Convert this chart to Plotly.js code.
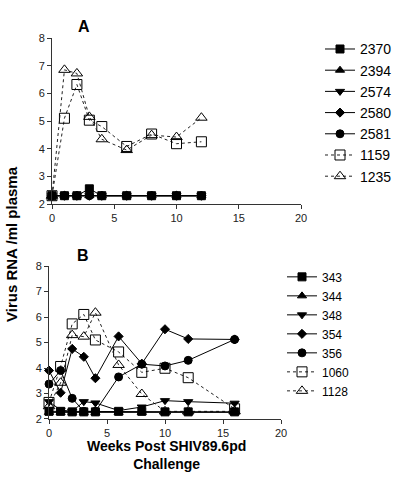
<!DOCTYPE html>
<html>
<head>
<meta charset="utf-8">
<script src="https://cdn.plot.ly/plotly-3.0.1.min.js"></script>
<style>html,body{margin:0;padding:0;background:#fff}#chart{width:400px;height:477px}</style>
</head>
<body>
<div id="chart"></div>
<script>
// Panel A data
const weeksA = [0, 1, 2, 3, 4, 6, 8, 10, 12];
const namesA = ["2370", "2394", "2574", "2580", "2581", "1159", "1235"];
const a2370 = [2.3, 2.3, 2.3, 2.55, 2.3, 2.3, 2.3, 2.3, 2.3];
const a2394 = [2.3, 2.3, 2.3, 2.3, 2.3, 2.3, 2.3, 2.3, 2.3];
const a2574 = [2.3, 2.3, 2.3, 2.3, 2.3, 2.3, 2.3, 2.3, 2.3];
const a2580 = [2.3, 2.3, 2.3, 2.3, 2.3, 2.3, 2.3, 2.3, 2.3];
const a2581 = [2.3, 2.3, 2.3, 2.3, 2.3, 2.3, 2.3, 2.3, 2.3];
const a1159 = [2.3, 5.1, 6.32, 5.03, 4.8, 4.08, 4.53, 4.18, 4.25];
const a1235 = [2.3, 6.85, 6.72, 5.15, 4.34, 3.95, 4.49, 4.42, 5.12];

// Panel B data
const weeksB = [0, 1, 2, 3, 4, 6, 8, 10, 12, 16];
const namesB = ["343", "344", "348", "354", "356", "1060", "1128"];
const b343 = [2.3, 2.3, 2.28, 2.28, 2.28, 2.3, 2.3, 2.28, 2.28, 2.28];
const b344 = [2.26, 2.26, 2.26, 2.26, 2.26, 2.26, 2.26, 2.26, 2.26, 2.26];
const b348 = [2.68, 2.35, 2.3, 2.68, 2.63, 2.33, 2.47, 2.72, 2.68, 2.62];
const b354 = [3.9, 3.03, 4.75, 4.44, 3.6, 5.24, 4.17, 5.52, 5.14, 5.12];
const b356 = [3.37, 3.9, 2.81, 2.3, 2.3, 3.65, 4.15, 4.08, 4.3, 5.12];
const b1060 = [2.65, 4.06, 5.73, 6.1, 5.1, 4.63, 3.83, 3.99, 3.62, 2.4];
const b1128 = [2.5, 3.42, 5.29, 5.23, 6.17, 4.12, 2.98, 2.3, 2.3, 2.3];

const solid = {color: "#000", width: 1};
const dotted = {color: "#222", width: 1, dash: "dot"};
function mk(sym, size) {
  return {symbol: sym, size: size, color: "#000", line: {color: "#000", width: 1}};
}
function tr(name, x, y, sym, size, dashed, xa, ya, leg, rank) {
  return {
    type: "scatter", mode: "lines+markers", name: name, x: x, y: y,
    xaxis: xa, yaxis: ya, legend: leg, legendrank: rank, cliponaxis: false,
    line: dashed ? dotted : solid, marker: mk(sym, size)
  };
}

const symbols = ["square", "triangle-up", "triangle-down", "diamond", "circle", "square-open", "triangle-up-open"];
const sizes = [8, 8, 8, 7, 8, 10, 10];
const seriesA = [a2370, a2394, a2574, a2580, a2581, a1159, a1235];
const seriesB = [b343, b344, b348, b354, b356, b1060, b1128];

const data = [];
// draw order: open series first, then the filled ones, with square on top
const order = [5, 6, 4, 3, 2, 1, 0];
order.forEach(i => {
  data.push(tr(namesA[i], weeksA, seriesA[i], symbols[i], sizes[i], i >= 5, "x", "y", "legend", i + 1));
});
order.forEach(i => {
  data.push(tr(namesB[i], weeksB, seriesB[i], symbols[i], sizes[i], i >= 5, "x2", "y2", "legend2", i + 1));
});

const FAM = "Liberation Sans, Arial, sans-serif";
const tickFont = {family: FAM, size: 11, color: "#222"};
function xax(domain, anchor) {
  return {domain: domain, anchor: anchor, range: [0, 20], tickvals: [0, 5, 10, 15, 20],
    ticks: "outside", ticklen: 4, tickcolor: "#333", showline: true, linecolor: "#333", linewidth: 1,
    showgrid: false, zeroline: false, tickfont: tickFont, fixedrange: true};
}
function yax(domain, anchor) {
  return {domain: domain, anchor: anchor, range: [2, 8], dtick: 1,
    ticks: "outside", ticklen: 4, tickcolor: "#333", showline: true, linecolor: "#333", linewidth: 1,
    showgrid: false, zeroline: false, tickfont: tickFont, fixedrange: true};
}

const layout = {
  width: 400, height: 477,
  margin: {l: 0, r: 0, t: 0, b: 0},
  paper_bgcolor: "#fff", plot_bgcolor: "#fff",
  showlegend: true,
  xaxis: xax([0.13, 0.7525], "y"),
  yaxis: yax([0.5723, 0.9203], "x"),
  xaxis2: xax([0.1225, 0.7025], "y2"),
  yaxis2: yax([0.1216, 0.4423], "x2"),
  legend: {x: 0.80, y: 0.93, xanchor: "left", yanchor: "top", font: {family: FAM, size: 14, color: "#000"},
    itemwidth: 30, tracegroupgap: 0, bgcolor: "rgba(0,0,0,0)", traceorder: "normal"},
  legend2: {x: 0.705, y: 0.45, xanchor: "left", yanchor: "top",
    font: {family: FAM, size: 12, color: "#000"},
    itemwidth: 30, tracegroupgap: 0, bgcolor: "rgba(0,0,0,0)", traceorder: "normal"},
  annotations: [
    {text: "<b>A</b>", xref: "paper", yref: "paper", x: 84 / 400, y: 1 - 27 / 477,
     xanchor: "center", yanchor: "middle",
     showarrow: false, font: {family: FAM, size: 16, color: "#000"}},
    {text: "<b>B</b>", xref: "paper", yref: "paper", x: 83 / 400, y: 1 - 255 / 477,
     xanchor: "center", yanchor: "middle",
     showarrow: false, font: {family: FAM, size: 16, color: "#000"}},
    {text: "<b>Virus RNA /ml plasma</b>", xref: "paper", yref: "paper", x: 11 / 400, y: 1 - 244 / 477,
     xanchor: "center", yanchor: "middle",
     textangle: -90, showarrow: false, font: {family: FAM, size: 15, color: "#000"}},
    {text: "<b>Weeks Post SHIV89.6pd<br>Challenge</b>", xref: "paper", yref: "paper", x: 166 / 400, y: 1 - 455 / 477,
     xanchor: "center", yanchor: "middle",
     showarrow: false, font: {family: FAM, size: 14, color: "#000"}}
  ]
};

Plotly.newPlot("chart", data, layout, {staticPlot: true, displayModeBar: false});
</script>
</body>
</html>
